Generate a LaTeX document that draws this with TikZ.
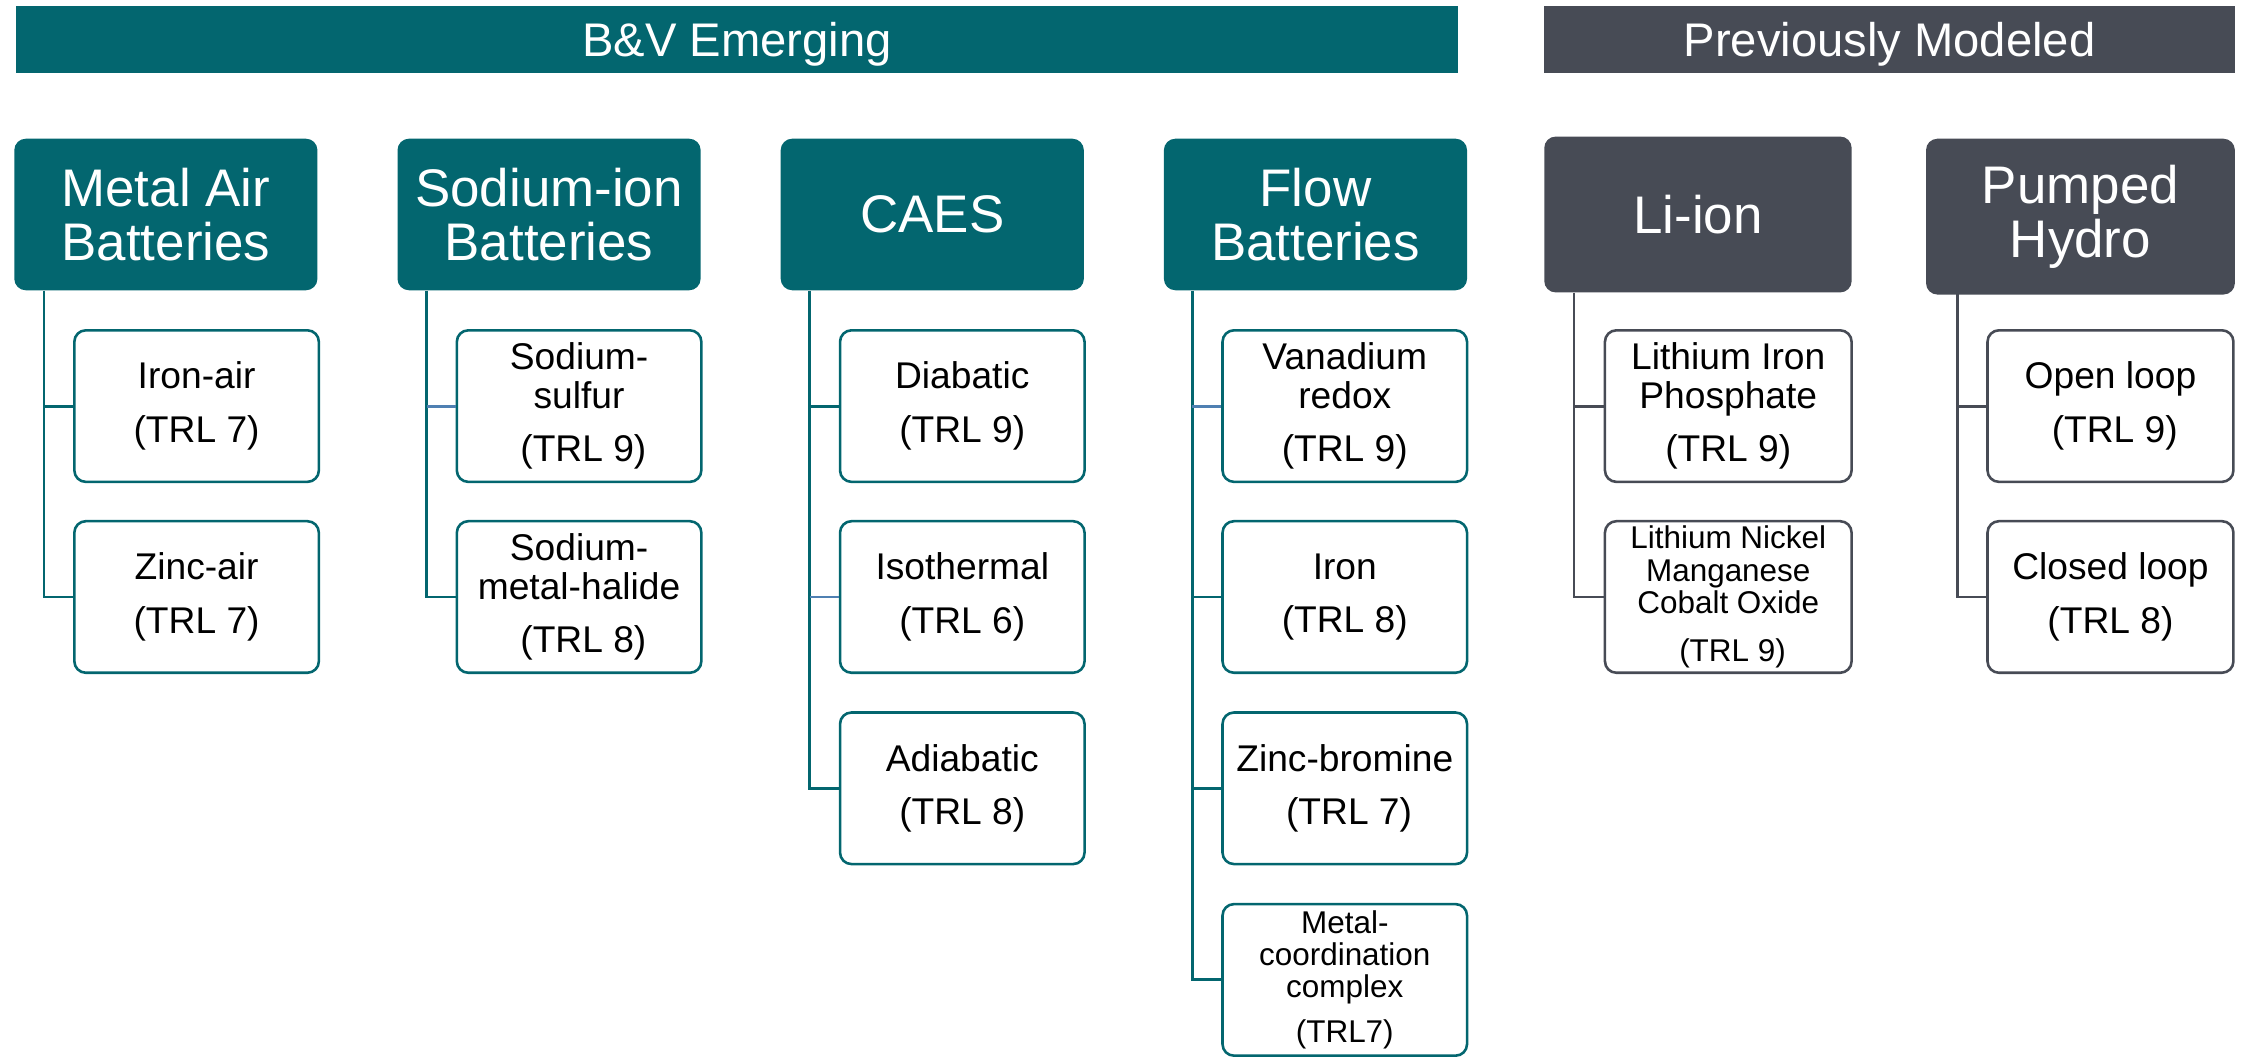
\documentclass[tikz,border=0pt]{standalone}
\usepackage{fontspec}
\setmainfont{Liberation Sans}
\usetikzlibrary{calc}

\definecolor{bvteal}{HTML}{03666F}
\definecolor{pmgray}{HTML}{474B55}
\definecolor{branchblue}{HTML}{4F80B2}

\tikzset{
  banner/.style={fill=#1, draw=none, text=white, inner sep=0pt,
    minimum height=47pt, text height=23.6pt, text depth=0pt,
    font=\fontsize{33}{36}\selectfont},
  topbox/.style={fill=#1, draw=none, rounded corners=8pt, text=white,
    minimum width=212pt, minimum height=106pt, align=center, inner sep=0pt,
    font=\fontsize{37}{38}\selectfont},
  leaf/.style={draw=#1, line width=1.8pt, fill=white, rounded corners=8pt,
    minimum width=171pt, minimum height=106pt, align=center, inner sep=0pt,
    font=\fontsize{26}{27}\selectfont},
  smallleaf/.style={leaf=#1, font=\fontsize{22}{22.6}\selectfont},
  conn/.style={draw=#1, line width=2pt},
}

\begin{document}
\begin{tikzpicture}[x=1pt, y=-1pt]
\useasboundingbox (0,0) rectangle (1568,740);

% group banners
\node[banner=bvteal, minimum width=1009pt] (bvbar) at (515.5,27.5) {B\&V Emerging};
\node[banner=pmgray, minimum width=483pt] (pmbar) at (1321.5,27.5) {Previously Modeled};

% technology families
\node[topbox=bvteal] (metalair) at (116,150) {Metal Air\\Batteries};
\node[topbox=bvteal] (sodiumion) at (384,150) {Sodium-ion\\Batteries};
\node[topbox=bvteal] (caes) at (652,150) {CAES};
\node[topbox=bvteal] (flow) at (920,150) {Flow\\Batteries};
\node[topbox=pmgray, minimum width=215pt, minimum height=109pt] (liion) at (1187.5,150) {Li-ion};
\node[topbox=pmgray, minimum width=216pt, minimum height=109pt] (pumped) at (1455,151.5) {Pumped\\Hydro};

% metal air
\node[leaf=bvteal] (ironair) at (137.5,284) {Iron-air\\[10.5pt](TRL 7)};
\node[leaf=bvteal] (zincair) at (137.5,417.5) {Zinc-air\\[10.5pt](TRL 7)};

% sodium-ion
\node[leaf=bvteal] (nas) at (405,284) {Sodium-\\sulfur\\[10pt]\hspace{6pt}(TRL 9)};
\node[leaf=bvteal] (nahal) at (405,417.5) {Sodium-\\metal-halide\\[10pt]\hspace{6pt}(TRL 8)};

% caes
\node[leaf=bvteal] (diabatic) at (673,284) {Diabatic\\[10.5pt](TRL 9)};
\node[leaf=bvteal] (isothermal) at (673,417.5) {Isothermal\\[10.5pt](TRL 6)};
\node[leaf=bvteal] (adiabatic) at (673,551.3) {Adiabatic\\[10.5pt](TRL 8)};

% flow
\node[leaf=bvteal] (vanadium) at (940.5,284) {Vanadium\\redox\\[10pt](TRL 9)};
\node[leaf=bvteal] (ironflow) at (940.5,417.5) {Iron\\[10.5pt](TRL 8)};
\node[leaf=bvteal] (znbr) at (940.5,551.3) {Zinc-bromine\\[10.5pt]\hspace{6pt}(TRL 7)};
\node[smallleaf=bvteal] (metalcoord) at (940.5,685.3) {Metal-\\coordination\\complex\\[9pt](TRL7)};

% li-ion
\node[leaf=pmgray, minimum width=172.5pt] (lfp) at (1208.7,284) {Lithium Iron\\Phosphate\\[10pt](TRL 9)};
\node[smallleaf=pmgray, minimum width=172.5pt] (nmc) at (1208.7,417.5) {Lithium Nickel\\Manganese\\Cobalt Oxide\\[11pt]\hspace{6pt}(TRL 9)};

% pumped hydro
\node[leaf=pmgray, minimum width=172pt] (openloop) at (1476,284) {Open loop\\[10.5pt]\hspace{6pt}(TRL 9)};
\node[leaf=pmgray, minimum width=172pt] (closedloop) at (1476,417.5) {Closed loop\\[10.5pt](TRL 8)};

% spine start points below each family box
\coordinate (s1) at ($(metalair.south west)+(21,0)$);
\coordinate (s2) at ($(sodiumion.south west)+(20.5,0)$);
\coordinate (s3) at ($(caes.south west)+(20.5,0)$);
\coordinate (s4) at ($(flow.south west)+(20,0)$);
\coordinate (s5) at ($(liion.south west)+(21,0)$);
\coordinate (s6) at ($(pumped.south west)+(22,-1.5)$);

% spines ending in the last branch
\draw[conn=bvteal] (s1) |- (zincair.west);
\draw[conn=bvteal] (s2) |- (nahal.west);
\draw[conn=bvteal] (s3) |- (adiabatic.west);
\draw[conn=bvteal] (s4) |- (metalcoord.west);
\draw[conn=pmgray] (s5) |- (nmc.west);
\draw[conn=pmgray] (s6) |- (closedloop.west);

% remaining branches
\draw[conn=bvteal] (s1 |- ironair.west) -- (ironair.west);
\draw[conn=branchblue] (s2 |- nas.west) -- (nas.west);
\draw[conn=bvteal] (s3 |- diabatic.west) -- (diabatic.west);
\draw[conn=branchblue] (s3 |- isothermal.west) -- (isothermal.west);
\draw[conn=branchblue] (s4 |- vanadium.west) -- (vanadium.west);
\draw[conn=bvteal] (s4 |- ironflow.west) -- (ironflow.west);
\draw[conn=bvteal] (s4 |- znbr.west) -- (znbr.west);
\draw[conn=pmgray] (s5 |- lfp.west) -- (lfp.west);
\draw[conn=pmgray] (s6 |- openloop.west) -- (openloop.west);
\end{tikzpicture}
\end{document}
